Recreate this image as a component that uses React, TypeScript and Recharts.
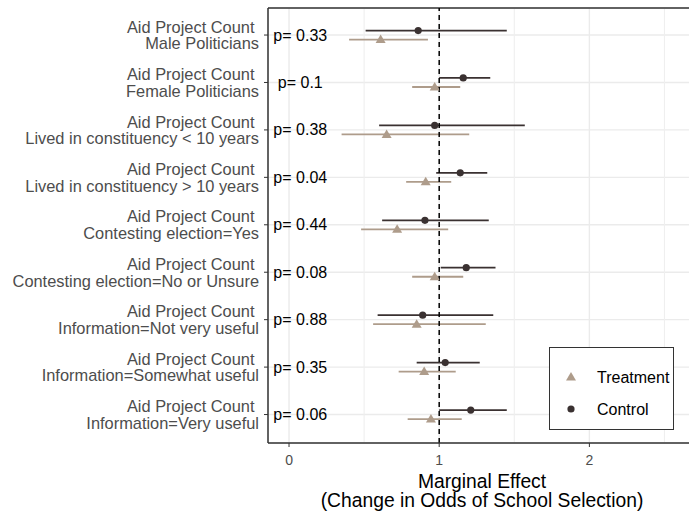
import {
  ScatterChart,
  Scatter,
  XAxis,
  YAxis,
  CartesianGrid,
  ReferenceLine,
  ErrorBar,
} from 'recharts';

const groups = [
  'Male Politicians',
  'Female Politicians',
  'Lived in constituency < 10 years',
  'Lived in constituency > 10 years',
  'Contesting election=Yes',
  'Contesting election=No or Unsure',
  'Information=Not very useful',
  'Information=Somewhat useful',
  'Information=Very useful',
];
const pValues = ['0.33', '0.1', '0.38', '0.04', '0.44', '0.08', '0.88', '0.35', '0.06'];

const controlEst = [0.86, 1.16, 0.97, 1.14, 0.905, 1.18, 0.89, 1.04, 1.21];
const controlLow = [0.51, 1.0, 0.6, 0.98, 0.62, 1.01, 0.59, 0.85, 1.0];
const controlHigh = [1.45, 1.34, 1.57, 1.32, 1.33, 1.375, 1.36, 1.27, 1.45];

const treatEst = [0.61, 0.97, 0.65, 0.91, 0.72, 0.97, 0.85, 0.9, 0.945];
const treatLow = [0.4, 0.82, 0.35, 0.78, 0.48, 0.82, 0.56, 0.73, 0.79];
const treatHigh = [0.925, 1.14, 1.2, 1.08, 1.06, 1.16, 1.31, 1.11, 1.15];

const xTicks = [0, 1, 2];
const xMinor = [0.5, 1.5, 2.5];

const CONTROL = '#3a3131';
const TREAT = '#ae9c8b';
const FONT = '"Liberation Sans", Arial, sans-serif';
const DODGE = 0.095; // vertical offset between the two series in a row
const P_X = 0.075; // where the p-value labels sit on the x scale

const rows = groups.map((_, i) => i + 1);

const controlData = rows.map((r, i) => ({
  x: controlEst[i],
  y: r - DODGE,
  err: [controlEst[i] - controlLow[i], controlHigh[i] - controlEst[i]],
}));
const treatData = rows.map((r, i) => ({
  x: treatEst[i],
  y: r + DODGE,
  err: [treatEst[i] - treatLow[i], treatHigh[i] - treatEst[i]],
}));
const pData = rows.map((r, i) => ({ x: P_X, y: r, label: `p= ${pValues[i]}` }));

const legendItems = [
  { name: 'Treatment', color: TREAT, shape: 'triangle' },
  { name: 'Control', color: CONTROL, shape: 'circle' },
];

function Triangle({ cx, cy, fill }: any) {
  return <polygon points={`${cx},${cy - 5} ${cx - 5},${cy + 3.5} ${cx + 5},${cy + 3.5}`} fill={fill} />;
}

function Dot({ cx, cy, fill }: any) {
  return <circle cx={cx} cy={cy} r={3.6} fill={fill} />;
}

function GroupTick({ x, y, payload }: any) {
  const label = groups[payload.value - 1];
  return (
    <g fontFamily={FONT} fontSize={16.4} fill="#4d4d4d">
      <text x={x - 4.5} y={y - 8.3} textAnchor="end" dominantBaseline="central">
        Aid Project Count
      </text>
      <text x={x} y={y + 8.3} textAnchor="end" dominantBaseline="central">
        {label}
      </text>
    </g>
  );
}

function XTitle({ viewBox }: any) {
  const cx = viewBox.x + viewBox.width / 2;
  return (
    <g fontFamily={FONT} fontSize={19.3} fill="#000">
      <text x={cx} y={viewBox.y + 45} textAnchor="middle">Marginal Effect</text>
      <text x={cx} y={viewBox.y + 64} textAnchor="middle">(Change in Odds of School Selection)</text>
    </g>
  );
}

function LegendBox() {
  return (
    <div
      style={{
        position: 'absolute',
        left: 549,
        top: 347,
        width: 125,
        height: 83,
        boxSizing: 'border-box',
        border: '1.2px solid #333',
        background: '#fff',
      }}
    >
      <svg width={123} height={81} style={{ display: 'block' }}>
        {legendItems.map((item, i) => {
          const cy = 29 + i * 32;
          return (
            <g key={item.name}>
              {item.shape === 'triangle' ? (
                <Triangle cx={21} cy={cy} fill={item.color} />
              ) : (
                <Dot cx={21} cy={cy} fill={item.color} />
              )}
              <text x={47} y={cy} dominantBaseline="central" fontFamily={FONT} fontSize={16} fill="#000">
                {item.name}
              </text>
            </g>
          );
        })}
      </svg>
    </div>
  );
}

export default function App() {
  return (
    <div
      style={{
        position: 'absolute',
        left: 0,
        top: 0,
        width: 689,
        height: 516,
        overflow: 'hidden',
        background: '#fff',
      }}
    >
      <ScatterChart
        width={696}
        height={516}
        margin={{ top: 8, right: 0, left: 0, bottom: 0 }}
        style={{ fontFamily: FONT }}
      >
        <CartesianGrid stroke="#ebebeb" strokeWidth={1.4} />
        {xMinor.map((v) => (
          <ReferenceLine key={v} x={v} stroke="#efefef" strokeWidth={1.1} />
        ))}
        <XAxis
          type="number"
          dataKey="x"
          domain={[-0.14, 2.71]}
          ticks={xTicks}
          allowDataOverflow
          height={73}
          tickSize={4}
          tickMargin={8}
          tick={{ fill: '#4d4d4d', fontSize: 14 }}
          tickLine={{ stroke: '#333' }}
          axisLine={{ stroke: '#333', strokeWidth: 1.5 }}
          label={{ content: (props: any) => <XTitle {...props} /> }}
        />
        <YAxis
          type="number"
          dataKey="y"
          domain={[0.43, 9.6]}
          ticks={rows}
          reversed
          allowDataOverflow
          width={268}
          tickSize={4}
          tickMargin={5}
          tick={<GroupTick />}
          tickLine={{ stroke: '#333' }}
          axisLine={{ stroke: '#333', strokeWidth: 1.5 }}
        />
        <ReferenceLine y={0.43} stroke="#333" strokeWidth={1.5} />
        <Scatter
          name="Control"
          data={controlData}
          fill={CONTROL}
          shape={(p: any) => <Dot cx={p.cx} cy={p.cy} fill={CONTROL} />}
          isAnimationActive={false}
        >
          <ErrorBar dataKey="err" direction="x" width={0} stroke={CONTROL} strokeWidth={1.8} />
        </Scatter>
        <Scatter
          name="Treatment"
          data={treatData}
          fill={TREAT}
          shape={(p: any) => <Triangle cx={p.cx} cy={p.cy} fill={TREAT} />}
          isAnimationActive={false}
        >
          <ErrorBar dataKey="err" direction="x" width={0} stroke={TREAT} strokeWidth={1.8} />
        </Scatter>
        <Scatter
          name="p"
          data={pData}
          shape={(p: any) => (
            <text
              x={p.cx}
              y={p.cy}
              textAnchor="middle"
              dominantBaseline="central"
              fontFamily={FONT}
              fontSize={16}
              fill="#000"
            >
              {p.payload.label}
            </text>
          )}
          isAnimationActive={false}
        />
        <ReferenceLine x={1} stroke="#000" strokeWidth={1.5} strokeDasharray="5 4" />
      </ScatterChart>
      <LegendBox />
    </div>
  );
}
